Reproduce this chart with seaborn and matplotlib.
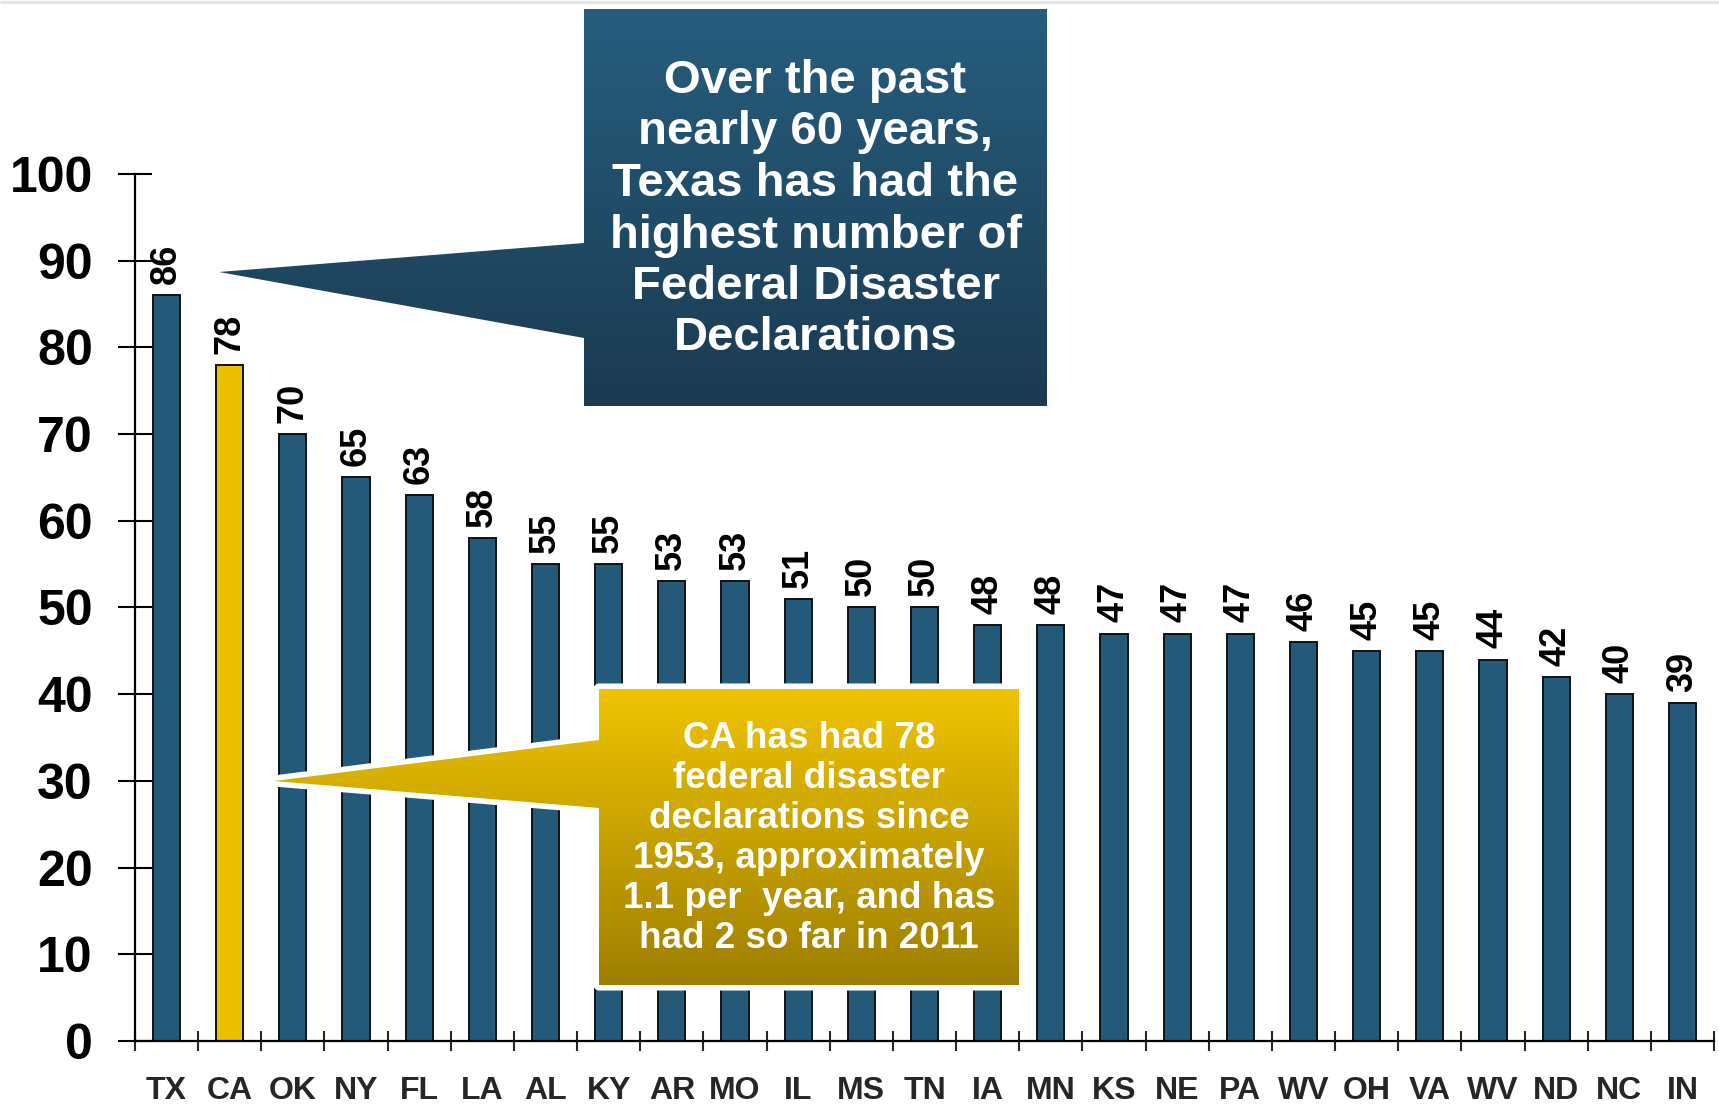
import numpy as np
import pandas as pd
import matplotlib
matplotlib.use("Agg")
import matplotlib.pyplot as plt
from matplotlib import font_manager
from matplotlib.patches import Polygon
from matplotlib.colors import LinearSegmentedColormap
import seaborn as sns

# ---- data ----
states = ["TX", "CA", "OK", "NY", "FL", "LA", "AL", "KY", "AR", "MO", "IL", "MS", "TN",
          "IA", "MN", "KS", "NE", "PA", "WV", "OH", "VA", "WV", "ND", "NC", "IN"]
declarations = [86, 78, 70, 65, 63, 58, 55, 55, 53, 53, 51, 50, 50,
                48, 48, 47, 47, 47, 46, 45, 45, 44, 42, 40, 39]
highlight_state = "CA"
yticks = list(range(0, 101, 10))

tx_note = ["Over the past", "nearly 60 years,", "Texas has had the",
           "highest number of", "Federal Disaster", "Declarations"]
ca_note = ["CA has had 78", "federal disaster", "declarations since",
           "1953, approximately", "1.1 per  year, and has", "had 2 so far in 2011"]

BLUE = "#235a7a"
YELLOW = "#ecc000"

sns.set_style("ticks")
names = {f.name for f in font_manager.fontManager.ttflist}
main_font = "Liberation Sans" if "Liberation Sans" in names else "DejaVu Sans"
narrow_font = "Liberation Sans Narrow" if "Liberation Sans Narrow" in names else None
plt.rcParams["font.family"] = [main_font, "DejaVu Sans"]
plt.rcParams["font.weight"] = "bold"

W, H = 1719, 1106
fig = plt.figure(figsize=(W / 100, H / 100), dpi=100)
ax = fig.add_axes([135 / W, (H - 1041) / H, (1714 - 135) / W, (1041 - 174) / H])

df = pd.DataFrame({
    "pos": list(range(len(states))),
    "value": declarations,
    "group": ["hi" if s == highlight_state else "base" for s in states],
})
sns.barplot(data=df, x="pos", y="value", hue="group",
            palette={"base": BLUE, "hi": YELLOW}, dodge=False, width=0.43,
            saturation=1, edgecolor="#111111", linewidth=1.4, legend=False,
            ax=ax, zorder=2)

for cont in ax.containers:
    ax.bar_label(cont, rotation=90, padding=8, fontsize=26, fontweight="bold",
                 color="black", clip_on=False)

ax.set_xlim(-0.5, len(states) - 0.5)
ax.set_ylim(0, 100)
ax.set_yticks(yticks)
ax.set_xticks(range(len(states)))
ax.set_xticklabels(states)
ax.set_xticks(np.arange(-0.5, len(states), 1.0), minor=True)
ax.set_xlabel("")
ax.set_ylabel("")

for side in ["top", "right"]:
    ax.spines[side].set_visible(False)
for side in ["left", "bottom"]:
    ax.spines[side].set_linewidth(1.6)
    ax.spines[side].set_color("black")

if narrow_font:
    ysize, xsize, tfam = 40, 25, narrow_font
else:
    ysize, xsize, tfam = 36, 23, main_font

ax.tick_params(axis="y", direction="inout", length=25, width=1.5, pad=18,
               labelsize=ysize, colors="black")
ax.tick_params(axis="x", which="major", length=0, pad=25, labelsize=xsize)
ax.tick_params(axis="x", which="minor", direction="inout", length=15, width=1.5)
for lab in ax.get_yticklabels() + ax.get_xticklabels():
    lab.set_fontfamily([tfam, "DejaVu Sans"])
    lab.set_fontweight("bold")

# ---- overlay for callouts (pixel coordinates, y downward) ----
ov = fig.add_axes([0, 0, 1, 1], zorder=5)
ov.set_xlim(0, W)
ov.set_ylim(H, 0)
ov.axis("off")
ov.patch.set_alpha(0)

ov.plot([0, W], [2, 2], color="#e6e6e6", lw=2.5, solid_capstyle="butt")


def callout(pts, top_col, bot_col, bbox, outline):
    x0, y0, x1, y1 = bbox
    if outline:
        ov.add_patch(Polygon(pts, closed=True, facecolor="white", edgecolor="white",
                             lw=8, joinstyle="round", zorder=1))
    cmap = LinearSegmentedColormap.from_list("g", [top_col, bot_col])
    grad = np.linspace(0, 1, 256).reshape(-1, 1)
    im = ov.imshow(grad, cmap=cmap, extent=(x0, x1, y1, y0), origin="upper",
                   aspect="auto", zorder=2, interpolation="bilinear")
    clip = Polygon(pts, closed=True, transform=ov.transData)
    im.set_clip_path(clip)


# Texas callout
tx_pts = [(584, 9), (1047, 9), (1047, 406), (584, 406), (584, 338), (219, 272), (584, 243)]
callout(tx_pts, "#265e7e", "#1b3a51", (219, 9, 1047, 406), outline=False)
for i, line in enumerate(tx_note):
    ov.text(815.5, 93 + i * 51.5, line, ha="center", va="baseline", color="white",
            fontsize=34, fontweight="bold", zorder=3)

# California callout
ca_pts = [(599, 689), (1019, 689), (1019, 985), (599, 985), (599, 808), (274, 781), (599, 740)]
callout(ca_pts, "#f0c400", "#9e7f00", (274, 689, 1019, 985), outline=True)
for i, line in enumerate(ca_note):
    ov.text(809, 748 + i * 40, line, ha="center", va="baseline", color="white",
            fontsize=26.5, fontweight="bold", zorder=3)

ov.set_xlim(0, W)
ov.set_ylim(H, 0)

fig.savefig("out.png", dpi=100, facecolor="white")
